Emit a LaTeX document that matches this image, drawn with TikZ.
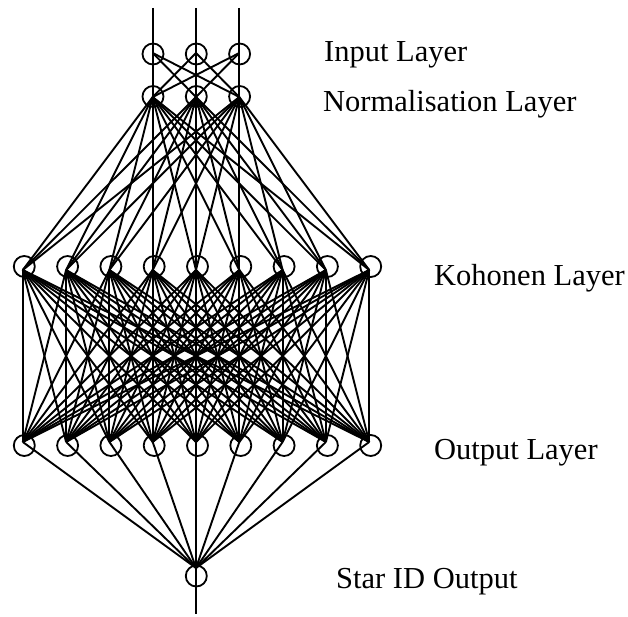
\documentclass[tikz,border=0pt]{standalone}
\usepackage{fontspec}
\setmainfont{Liberation Serif}
\usetikzlibrary{calc}
\begin{document}
\begin{tikzpicture}[x=1pt,y=-1pt,
  neuron/.style={circle, draw, line width=1.8pt, minimum size=21pt, inner sep=0pt},
  wire/.style={line width=1.9pt},
  lbl/.style={anchor=base west, font=\fontsize{30.5}{36}\selectfont, inner sep=0pt}]
\useasboundingbox (0,0) rectangle (628,617);
% connection points
\foreach \i/\x in {1/152.7,2/196,3/239.3}{
  \coordinate (top\i) at (\x,8);
  \coordinate (in\i) at (\x,53);
  \coordinate (no\i) at (\x,97);
}
\foreach \k in {1,...,9}{
  \coordinate (ko\k) at ({196+43.3*(\k-5)},270);
  \coordinate (ou\k) at ({196+43.3*(\k-5)},442);
}
\coordinate (st) at (196,568);
\coordinate (bot) at (196,614);
% connectors
\foreach \i in {1,2,3}{
  \draw[wire] (top\i) -- (in\i);
  \foreach \j in {1,2,3}{ \draw[wire] (in\i) -- (no\j); }
  \foreach \k in {1,...,9}{ \draw[wire] (no\i) -- (ko\k); }
}
\foreach \k in {1,...,9}{
  \foreach \m in {1,...,9}{ \draw[wire] (ko\k) -- (ou\m); }
  \draw[wire] (ou\k) -- (st);
}
\draw[wire] (st) -- (bot);
% neurons
\foreach \i in {1,2,3}{
  \node[neuron] (cin\i) at ($(in\i)+(0.3,1)$) {};
  \node[neuron] (cno\i) at ($(no\i)+(0.3,-0.5)$) {};
}
\foreach \k in {1,...,9}{
  \node[neuron] (cko\k) at ($(ko\k)+(1.5,-3.5)$) {};
  \node[neuron] (cou\k) at ($(ou\k)+(1.5,3.5)$) {};
}
\node[neuron] (cst) at ($(st)+(0.3,8)$) {};
% labels
\node[lbl] (l1) at (324,61.5) {Input Layer};
\node[lbl] (l2) at (323,111.5) {Normalisation Layer};
\node[lbl] (l3) at (434,285) {Kohonen Layer};
\node[lbl] (l4) at (434,459.5) {Output Layer};
\node[lbl] (l5) at (336,588) {Star ID Output};
\end{tikzpicture}
\end{document}
